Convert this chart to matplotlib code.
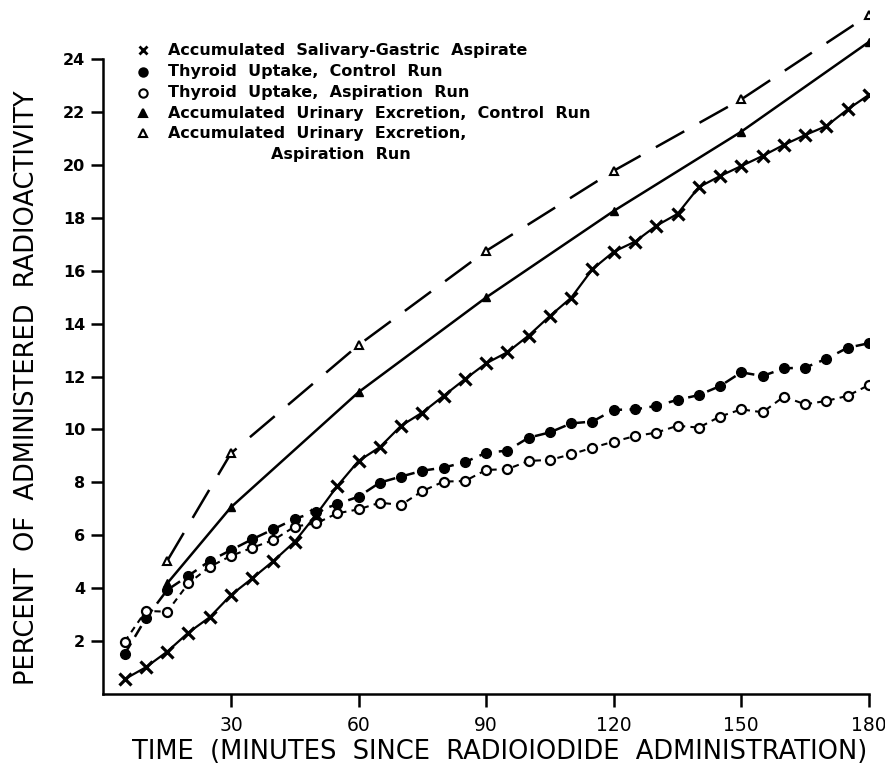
"""Radioiodide distribution over time: thyroid uptake, urinary excretion, gastric aspirate."""
import matplotlib
matplotlib.use('Agg')
import matplotlib.pyplot as plt

plt.rcParams.update({
    'font.family': 'DejaVu Sans',
    'axes.edgecolor': 'black',
    'axes.linewidth': 1.8,
})

# ---- data ----
t_5min = list(range(5, 181, 5))
gastric = [0.56, 1.01, 1.6, 2.32, 2.9, 3.74, 4.37, 5.03, 5.76, 6.77,
           7.86, 8.81, 9.33, 10.14, 10.64, 11.27, 11.9, 12.5, 12.92, 13.55,
           14.29, 14.98, 16.06, 16.72, 17.1, 17.7, 18.15, 19.16, 19.58, 19.96,
           20.34, 20.76, 21.13, 21.47, 22.1, 22.65]
thyroid_control = [1.51, 2.86, 3.93, 4.47, 5.03, 5.44, 5.85, 6.23, 6.62, 6.89,
                   7.18, 7.46, 7.99, 8.22, 8.44, 8.56, 8.76, 9.12, 9.2, 9.69,
                   9.89, 10.23, 10.3, 10.74, 10.76, 10.89, 11.12, 11.3, 11.64, 12.16,
                   12.02, 12.31, 12.34, 12.67, 13.09, 13.26]
thyroid_aspiration = [1.98, 3.14, 3.11, 4.18, 4.81, 5.22, 5.53, 5.82, 6.33, 6.45,
                      6.83, 6.98, 7.23, 7.15, 7.67, 8.03, 8.05, 8.47, 8.5, 8.81,
                      8.85, 9.06, 9.31, 9.54, 9.75, 9.88, 10.14, 10.07, 10.49, 10.76,
                      10.65, 11.24, 10.95, 11.08, 11.27, 11.68]
t_urine = [15, 30, 60, 90, 120, 150, 180]
urine_control = [4.18, 7.06, 11.41, 14.99, 18.26, 21.26, 24.65]
urine_aspiration = [5.03, 9.1, 13.19, 16.75, 19.78, 22.48, 25.67]

NARROW = ['Liberation Sans Narrow', 'DejaVu Sans']

fig = plt.figure(figsize=(8.85, 7.71), dpi=100)
ax = fig.add_axes([0.1168, 0.0999, 0.865, 0.892])

ax.plot(t_urine, urine_aspiration, color='black', lw=1.8, ls=(0, (13, 7)),
        marker='^', ms=6, mfc='white', mec='black', mew=1.5, zorder=3)
ax.plot(t_urine, urine_control, color='black', lw=1.8, ls='-',
        marker='^', ms=6, mfc='black', mec='black', zorder=3)
ax.plot(t_5min, gastric, color='black', lw=1.6, ls='-',
        marker='x', ms=8.5, mew=2.3, zorder=3)
ax.plot(t_5min, thyroid_control, color='black', lw=1.8, ls=(0, (5, 3)),
        marker='o', ms=7, mfc='black', mec='black', zorder=3)
ax.plot(t_5min, thyroid_aspiration, color='black', lw=1.5, ls=(0, (3, 2.5)),
        marker='o', ms=6.5, mfc='white', mec='black', mew=1.6, zorder=4)

ax.set_xlim(0, 180)
ax.set_ylim(0, 26)
ax.spines['top'].set_visible(False)
ax.spines['right'].set_visible(False)
ax.spines['left'].set_bounds(0, 24)

ax.set_xticks([30, 60, 90, 120, 150, 180])
ax.set_xticklabels(['30', '60', '90', '120', '150', '180'], family=NARROW)
ax.set_yticks(range(2, 25, 2))
ax.tick_params(axis='x', direction='out', length=9, width=1.8, pad=7,
               labelsize=13.5)
ax.tick_params(axis='y', direction='out', length=9, width=1.8, pad=4,
               labelsize=11.5)
for lab in ax.get_yticklabels():
    lab.set_fontweight('bold')

fig.text(0.564, 0.025, 'TIME  (MINUTES  SINCE  RADIOIODIDE  ADMINISTRATION)',
         ha='center', va='center', fontsize=18.5, family=NARROW)
fig.text(0.031, 0.497, 'PERCENT  OF  ADMINISTERED  RADIOACTIVITY',
         rotation=90, ha='center', va='center', fontsize=18.5)

# ---- hand-drawn style legend ----
legend_rows = [
    ('x', 'black', 'Accumulated  Salivary-Gastric  Aspirate', 0.935),
    ('o', 'black', 'Thyroid  Uptake,  Control  Run', 0.907),
    ('o', 'white', 'Thyroid  Uptake,  Aspiration  Run', 0.880),
    ('^', 'black', 'Accumulated  Urinary  Excretion,  Control  Run', 0.853),
    ('^', 'white', 'Accumulated  Urinary  Excretion,', 0.827),
]
for mk, fc, label, yy in legend_rows:
    fig.lines.append(plt.Line2D([143 / 885], [yy], marker=mk, ms=6, mfc=fc,
                                mec='black', mew=1.5 if mk != 'x' else 2,
                                color='black', ls='none',
                                transform=fig.transFigure))
    fig.text(168 / 885, yy, label, fontsize=11.5, fontweight='bold',
             va='center', ha='left')
fig.text(271 / 885, 0.799, 'Aspiration  Run', fontsize=11.5, fontweight='bold',
         va='center', ha='left')

fig.savefig('out.png', dpi=100, facecolor='white')
